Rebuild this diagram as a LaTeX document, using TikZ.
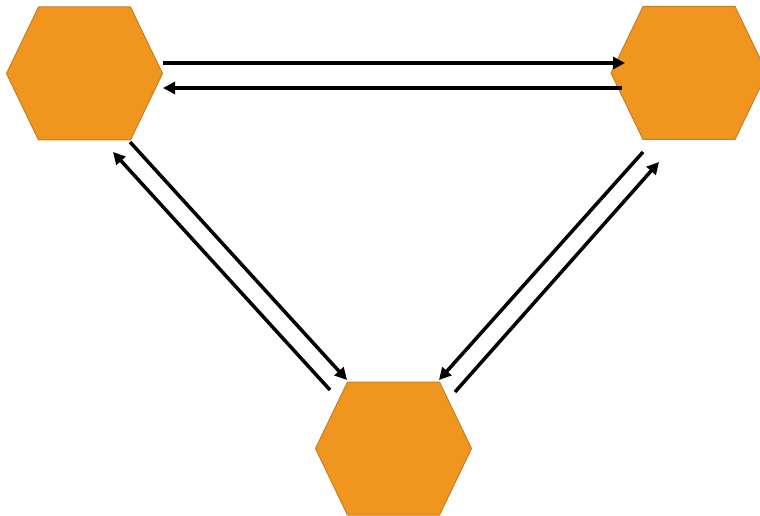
\documentclass[tikz,border=0pt]{standalone}
\usetikzlibrary{arrows.meta}
\definecolor{hexfill}{RGB}{240,150,30}
\definecolor{hexline}{RGB}{196,128,40}
\tikzset{
  hexstyle/.style={fill=hexfill, draw=hexline, line width=1pt, line join=miter},
  hexa/.pic={\path[hexstyle] (-78,0) -- (-46,-66.5) -- (46,-66.5) -- (78,0) -- (46,66.5) -- (-46,66.5) -- cycle;},
  link/.style={draw=black, line width=3.5pt, -{Triangle[length=12pt,width=12pt]}}
}
\begin{document}
\begin{tikzpicture}[x=1pt,y=-1pt]
\useasboundingbox (0,0) rectangle (760,516);
% hexagon centres
\coordinate (A) at (84.5,73.5);
\coordinate (B) at (689,73);
\coordinate (C) at (393.5,448.5);
\pic at (A) {hexa};
\pic at (B) {hexa};
\pic at (C) {hexa};
% connector end points
\coordinate (ab1) at (163,63);   \coordinate (ba1) at (625,63);
\coordinate (ba2) at (622,88);   \coordinate (ab2) at (163,88);
\coordinate (ac1) at (130,142);  \coordinate (ca1) at (347,380);
\coordinate (ca2) at (330,390);  \coordinate (ac2) at (113,152);
\coordinate (bc1) at (643,152);  \coordinate (cb1) at (439,380);
\coordinate (cb2) at (455,392);  \coordinate (bc2) at (659,162);
% connectors
\draw[link] (ab1) -- (ba1);
\draw[link] (ba2) -- (ab2);
\draw[link] (ac1) -- (ca1);
\draw[link] (ca2) -- (ac2);
\draw[link] (bc1) -- (cb1);
\draw[link] (cb2) -- (bc2);
\end{tikzpicture}
\end{document}
